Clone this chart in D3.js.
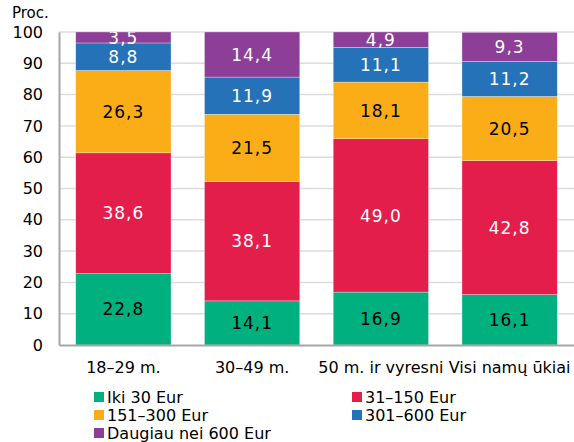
<!DOCTYPE html>
<meta charset="utf-8">
<title>Proc.</title>
<body>
<script src="https://cdn.jsdelivr.net/npm/d3@7"></script>
<style>
html, body {
    margin: 0;
    background: #fff;
}
svg {
    display: block;
    font-family: "DejaVu Sans", Verdana, sans-serif;
}
</style>
<script>
var categories = ["18–29 m.", "30–49 m.", "50 m. ir vyresni", "Visi namų ūkiai"];
var seriesNames = ["Iki 30 Eur", "31–150 Eur", "151–300 Eur", "301–600 Eur", "Daugiau nei 600 Eur"];
var iki30 = [22.8, 14.1, 16.9, 16.1];
var eur31_150 = [38.6, 38.1, 49.0, 42.8];
var eur151_300 = [26.3, 21.5, 18.1, 20.5];
var eur301_600 = [8.8, 11.9, 11.1, 11.2];
var daugiau600 = [3.5, 14.4, 4.9, 9.3];
var yTicks = [0, 10, 20, 30, 40, 50, 60, 70, 80, 90, 100];

var colors = ["#00b07f", "#e31e4b", "#fbad18", "#2572b8", "#8d3e96"];
var labelColors = ["#000", "#fff", "#000", "#fff", "#fff"];

var width = 574,
    height = 442,
    margin = {top: 32, right: 0, bottom: 97, left: 59},
    w = width - margin.left - margin.right,
    h = height - margin.top - margin.bottom;

var rows = categories.map(function(c, i) {
    return {
        cat: c,
        s0: iki30[i], s1: eur31_150[i], s2: eur151_300[i], s3: eur301_600[i], s4: daugiau600[i]
    };
});

var stack = d3.stack().keys(["s0", "s1", "s2", "s3", "s4"]);
var layers = stack(rows);

var x = d3.scaleBand().domain(categories).range([0, w]).paddingInner(0.26).paddingOuter(0.13);
var y = d3.scaleLinear().domain([0, 100]).range([h, 0]);

var svg = d3.select("body").append("svg")
    .attr("width", width)
    .attr("height", height);

svg.append("defs").append("clipPath")
    .attr("id", "plot")
    .append("rect")
    .attr("width", w)
    .attr("height", h);

var g = svg.append("g")
    .attr("transform", "translate(" + margin.left + "," + margin.top + ")");

// grid
g.selectAll(".grid")
    .data(yTicks.filter(function(d) { return d > 0; }))
    .enter().append("line")
    .attr("x1", 0)
    .attr("x2", w)
    .attr("y1", function(d) { return y(d); })
    .attr("y2", function(d) { return y(d); })
    .attr("stroke", "#dcdcdc")
    .attr("stroke-width", 1.5);

var plot = g.append("g").attr("clip-path", "url(#plot)");

var layer = plot.selectAll(".layer")
    .data(layers)
    .enter().append("g")
    .attr("fill", function(d, i) { return colors[i]; });

layer.selectAll("rect")
    .data(function(d) { return d; })
    .enter().append("rect")
    .attr("x", function(d) { return x(d.data.cat); })
    .attr("width", x.bandwidth())
    .attr("y", function(d) { return y(d[1]); })
    .attr("height", function(d) { return y(d[0]) - y(d[1]); })
    .attr("stroke", "#fff")
    .attr("stroke-opacity", 0.5)
    .attr("stroke-width", 0.6);

layers.forEach(function(l, i) {
    plot.selectAll(".lbl" + i)
        .data(l)
        .enter().append("text")
        .attr("x", function(d) { return x(d.data.cat) + x.bandwidth() / 2; })
        .attr("y", function(d) { return y((d[0] + d[1]) / 2); })
        .attr("dy", "0.36em")
        .attr("text-anchor", "middle")
        .attr("fill", labelColors[i])
        .style("font-size", "17px")
        .style("letter-spacing", "1px")
        .text(function(d) { return d3.format(".1f")(d[1] - d[0]).replace(".", ","); });
});

// axes
var yAxis = g.append("g")
    .call(d3.axisLeft(y).tickValues(yTicks).tickSize(0).tickPadding(16));
yAxis.select(".domain").attr("stroke", "#a6a6a6").attr("stroke-width", 2);
yAxis.selectAll("text")
    .attr("fill", "#000")
    .style("font-size", "16px")
    .style("font-family", "'DejaVu Sans', Verdana, sans-serif");

var xAxis = g.append("g")
    .attr("transform", "translate(0," + h + ")")
    .call(d3.axisBottom(x).tickSize(0).tickPadding(17));
xAxis.select(".domain").attr("stroke", "#a6a6a6").attr("stroke-width", 2);
xAxis.selectAll("text")
    .attr("fill", "#000")
    .style("font-size", "16px")
    .style("font-family", "'DejaVu Sans', Verdana, sans-serif");

svg.append("text")
    .attr("x", 12)
    .attr("y", 18)
    .style("font-size", "15px")
    .text("Proc.");

// legend
var legendPos = [[94, 397], [352, 397], [94, 415], [352, 415], [94, 433]];
var legend = svg.selectAll(".legend")
    .data(seriesNames)
    .enter().append("g")
    .attr("transform", function(d, i) { return "translate(" + legendPos[i] + ")"; });

legend.append("rect")
    .attr("x", 0)
    .attr("y", -5)
    .attr("width", 10)
    .attr("height", 10)
    .attr("fill", function(d, i) { return colors[i]; });

legend.append("text")
    .attr("x", 13)
    .attr("dy", "0.36em")
    .style("font-size", "16px")
    .text(function(d) { return d; });
</script>
